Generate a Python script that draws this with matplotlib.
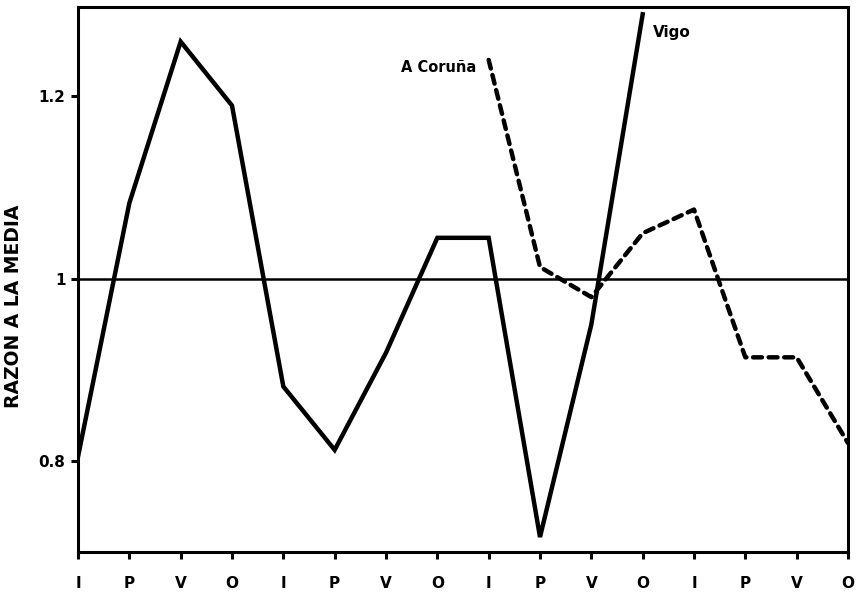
import numpy as np
import matplotlib
matplotlib.use('Agg')
import matplotlib.pyplot as plt

# estaciones: Invierno, Primavera, Verano, Otono
seasons = ['I', 'P', 'V', 'O'] * 4
x = np.arange(len(seasons))

vigo = [0.805, 1.083, 1.26, 1.19, 0.882, 0.8125, 0.919, 1.045, 1.045, 0.717, 0.95, 1.29]
coruna = [1.24, 1.013, 0.98, 1.05, 1.076, 0.914, 0.914, 0.82]
coruna_start = 8

yticks = [0.8, 1.0, 1.2]
yticklabels = ['0.8', '1', '1.2']

plt.rcParams['font.family'] = ['DejaVu Sans']
plt.rcParams['font.weight'] = 'bold'

fig = plt.figure(figsize=(8.59, 5.94), dpi=100)
ax = fig.add_axes([0.0908, 0.0707, 0.8964, 0.9175])

ax.axhline(1.0, color='black', lw=1.8, zorder=1)
ax.plot(x[:len(vigo)], vigo, color='black', lw=3.2, solid_joinstyle='miter', zorder=3)
ax.plot(x[coruna_start:coruna_start + len(coruna)], coruna, color='black', lw=3.2,
        dashes=(2.0, 1.5), dash_capstyle='round', zorder=3)

ax.text(7.75, 1.232, 'A Coruña', ha='right', va='center', fontsize=10.5, fontweight='bold')
ax.text(11.2, 1.27, 'Vigo', ha='left', va='center', fontsize=11, fontweight='bold')

ax.set_xlim(0, 15)
ax.set_ylim(0.7006, 1.298)
ax.set_xticks(x)
ax.set_xticklabels(seasons, fontsize=11, fontweight='bold')
ax.set_yticks(yticks)
ax.set_yticklabels(yticklabels, fontsize=11, fontweight='bold')
ax.set_ylabel('RAZON A LA MEDIA', fontsize=13.5, fontweight='bold')
ax.yaxis.set_label_coords(-0.0714, 0.451)

for s in ax.spines.values():
    s.set_linewidth(2.2)
ax.tick_params(axis='both', direction='out', length=5, width=2.2, pad=12)
ax.tick_params(axis='y', pad=4)

fig.savefig('out.png', dpi=100)
